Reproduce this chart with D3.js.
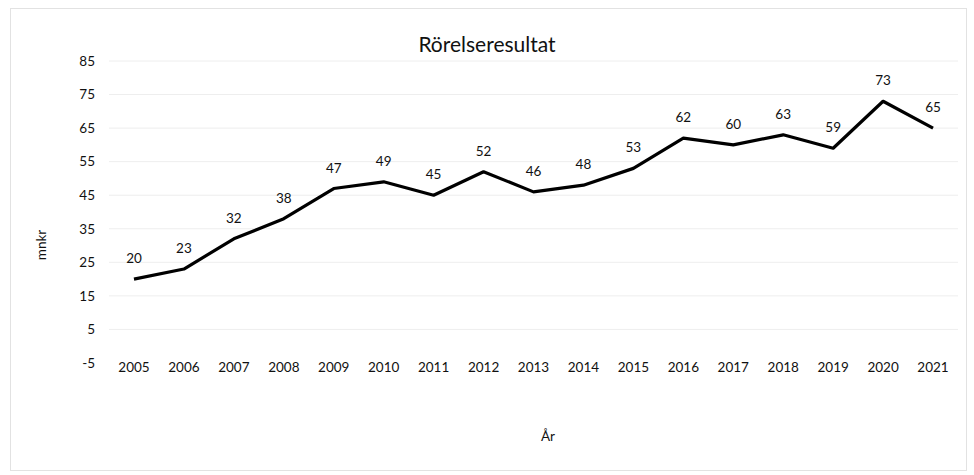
<!DOCTYPE html>
<html><head><meta charset="utf-8">
<script src="https://cdn.jsdelivr.net/npm/d3@7"></script>
<style>body{margin:0;background:#fff;} text{font-family:Lato,"Open Sans",sans-serif;}</style>
</head><body><svg id="c" width="974" height="475"></svg>
<script>
const years = ["2005","2006","2007","2008","2009","2010","2011","2012","2013","2014","2015","2016","2017","2018","2019","2020","2021"];
const values = [20,23,32,38,47,49,45,52,46,48,53,62,60,63,59,73,65];
const yTicks = [-5,5,15,25,35,45,55,65,75,85];
const title = "Rörelseresultat", yLabel = "mnkr", xLabel = "År";

const svg = d3.select("#c");
svg.append("rect").attr("x",10.5).attr("y",8.5).attr("width",956).attr("height",462)
  .attr("fill","#fff").attr("stroke","#e2e2e2");
const L=109, R=958, T=61, B=363;
const x = d3.scaleBand().domain(years).range([L,R]);
const y = d3.scaleLinear().domain([-5,85]).range([B,T]);

const g = svg.append("g");
g.selectAll("line.grid").data(yTicks.filter(d=>d>-5)).join("line")
  .attr("x1",L).attr("x2",R).attr("y1",d=>y(d)).attr("y2",d=>y(d))
  .attr("stroke","#eeeeee").attr("stroke-width",1);

const ya = g.append("g").attr("transform",`translate(${L},0)`)
  .call(d3.axisLeft(y).tickValues(yTicks).tickSize(0).tickPadding(14).tickFormat(d=>String(d)));
ya.select(".domain").remove();
ya.selectAll("text").attr("font-size",13.5).attr("fill","#111").style("font-family","Lato,'Open Sans',sans-serif");

const xa = g.append("g").attr("transform",`translate(0,${B-4})`)
  .call(d3.axisBottom(x).tickSize(0).tickPadding(0));
xa.select(".domain").remove();
xa.selectAll("text").attr("font-size",13.5).attr("fill","#111").attr("dy","0.95em").style("font-family","Lato,'Open Sans',sans-serif");

const line = d3.line().x((d,i)=>x(years[i])+x.bandwidth()/2).y(d=>y(d));
g.append("path").datum(values).attr("d",line).attr("fill","none")
  .attr("stroke","#000").attr("stroke-width",3.2).attr("stroke-linejoin","round");

g.selectAll("text.lbl").data(values).join("text").attr("class","lbl")
  .attr("x",(d,i)=>x(years[i])+x.bandwidth()/2).attr("y",d=>y(d)-16)
  .attr("text-anchor","middle").attr("font-size",13.5).attr("fill","#111").text(d=>d);

svg.append("text").attr("x",487).attr("y",52).attr("text-anchor","middle")
  .attr("font-size",21).attr("fill","#111").text(title);
svg.append("text").attr("transform","translate(46,245) rotate(-90)").attr("text-anchor","middle")
  .attr("font-size",13.5).attr("fill","#111").text(yLabel);
svg.append("text").attr("x",548).attr("y",441).attr("text-anchor","middle")
  .attr("font-size",13.5).attr("fill","#111").text(xLabel);
</script></body></html>
